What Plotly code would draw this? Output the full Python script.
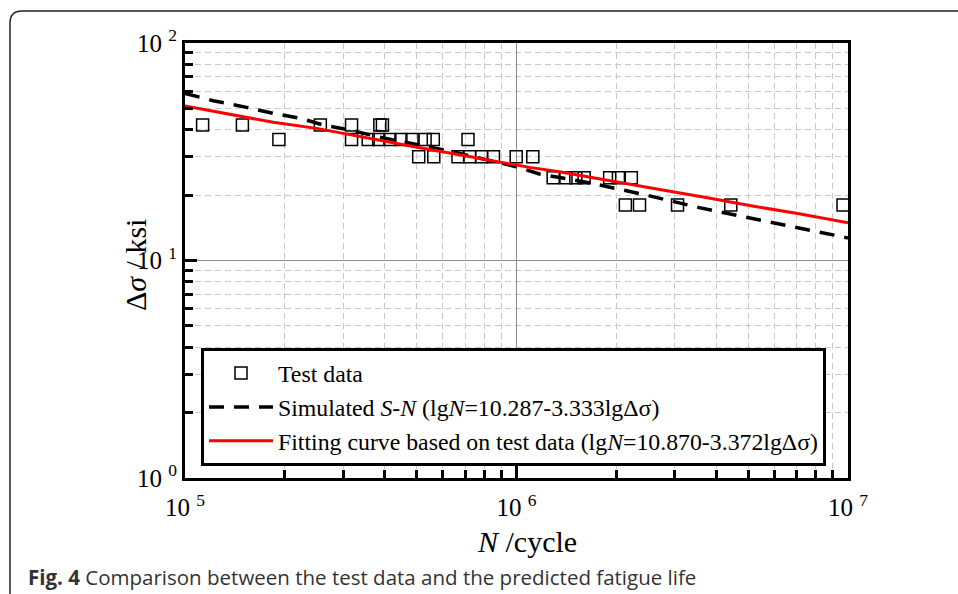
import plotly.graph_objects as go

# ---- data ----
test_N = [1.13e5, 1.49e5, 2.56e5, 3.18e5, 3.87e5, 3.94e5,
          1.92e5, 3.18e5, 3.57e5, 3.84e5, 4.15e5, 4.48e5, 4.84e5, 5.30e5, 5.61e5, 7.14e5,
          5.07e5, 5.63e5, 6.66e5, 7.22e5, 7.85e5, 8.52e5, 9.98e5, 1.12e6,
          1.29e6, 1.41e6, 1.51e6, 1.60e6, 1.91e6, 2.03e6, 2.22e6,
          2.13e6, 2.35e6, 3.06e6, 4.43e6, 9.66e6]
test_S = [42, 42, 42, 42, 42, 42,
          36, 36, 36, 36, 36, 36, 36, 36, 36, 36,
          30, 30, 30, 30, 30, 30, 30, 30,
          24, 24, 24, 24, 24, 24, 24,
          18, 18, 18, 18, 18]

sim_N = [1.0e5, 1.217e5, 1.534e5, 1.845e5, 2.221e5, 2.61e5, 3.141e5, 3.868e5, 4.652e5,
         6.43e5, 9.98e5, 1.173e6, 1.698e6, 2.459e6, 3.558e6, 5.149e6, 7.458e6, 1.0e7]
sim_S = [58.7, 54.3, 50.6, 47.5, 45.1, 42.0, 39.8, 36.9, 34.9,
         31.6, 27.0, 25.0, 22.6, 20.0, 17.5, 15.6, 13.8, 12.7]

fit_N = [1.0e5, 1.304e5, 1.845e5, 2.493e5, 3.366e5, 4.872e5, 7.056e5, 1.094e6, 1.347e6,
         1.863e6, 2.573e6, 3.727e6, 5.149e6, 7.118e6, 1.0e7]
fit_S = [51.3, 47.5, 43.2, 40.5, 37.1, 33.4, 30.2, 26.8, 25.6,
         23.4, 21.5, 19.5, 17.8, 16.4, 14.9]

x_major = [1e5, 1e6, 1e7]
x_major_text = ["10 <sup>5</sup>", "10 <sup>6</sup>", "10 <sup>7</sup>"]
y_major = [1, 10, 100]
y_major_text = ["10 <sup>0</sup>", "10 <sup>1</sup>", "10 <sup>2</sup>"]
x_minor = [k * 10 ** d for d in (5, 6) for k in range(2, 10)]
y_minor = [k * 10 ** d for d in (0, 1) for k in range(2, 10)]

legend_names = ["Test data",
                "Simulated <i>S-N</i> (lg<i>N</i>=10.287-3.333lgΔσ)",
                "Fitting curve based on test data (lg<i>N</i>=10.870-3.372lgΔσ)"]
caption = "<b>Fig. 4</b> Comparison between the test data and the predicted fatigue life"

SERIF = "Liberation Serif"

fig = go.Figure()
fig.add_trace(go.Scatter(x=test_N, y=test_S, mode="markers", name=legend_names[0],
                         marker=dict(symbol="square-open", size=12, color="black",
                                     line=dict(width=1.5, color="black"))))
fig.add_trace(go.Scatter(x=sim_N, y=sim_S, mode="lines", name=legend_names[1],
                         line=dict(color="black", width=3.5, dash="15px,10px")))
fig.add_trace(go.Scatter(x=fit_N, y=fit_S, mode="lines", name=legend_names[2],
                         line=dict(color="#ff0000", width=3)))

# plot area in pixels: x 185..848, y 43..478
L, R, T, B = 185, 848, 43, 478
W, H = R - L, B - T
def px(x): return (x - L) / W
def py(y): return (B - y) / H

axis_common = dict(
    type="log", showline=True, linewidth=3, linecolor="black", mirror=True,
    ticks="inside", ticklen=12, tickwidth=3, tickcolor="black",
    showgrid=True, gridcolor="#8c8c8c", gridwidth=1,
    zeroline=False, tickmode="array",
    tickfont=dict(family=SERIF, size=25, color="black"),
)

fig.update_xaxes(**axis_common, range=[5, 7], tickvals=x_major, ticktext=x_major_text,
                 ticklabelstandoff=5,
                 minor=dict(tickmode="array", tickvals=x_minor, ticks="inside", ticklen=8,
                            tickwidth=2.5, tickcolor="black", showgrid=True,
                            gridcolor="#c8c8c8", gridwidth=1, griddash="6px,4px"))
fig.update_yaxes(**axis_common, range=[0, 2], tickvals=y_major, ticktext=y_major_text,
                 ticklabelstandoff=0,
                 minor=dict(tickmode="array", tickvals=y_minor, ticks="inside", ticklen=8,
                            tickwidth=2.5, tickcolor="black", showgrid=True,
                            gridcolor="#c8c8c8", gridwidth=1, griddash="6px,4px"))

# rounded frame around the figure panel
r = 12
fx0, fy0, fx1, fy1 = 10, 11, 990, 640
path = (f"M {px(fx0)},{py(fy1)} L {px(fx0)},{py(fy0 + r)} "
        f"Q {px(fx0)},{py(fy0)} {px(fx0 + r)},{py(fy0)} L {px(fx1)},{py(fy0)}")
fig.add_shape(type="path", path=path, xref="paper", yref="paper",
              line=dict(color="#222222", width=1.5))

fig.add_annotation(text="Δ<i>σ</i> / ksi", xref="paper", yref="paper",
                   x=px(135), y=py(265), showarrow=False, textangle=-90,
                   xanchor="center", yanchor="middle",
                   font=dict(family=SERIF, size=30, color="black"))
fig.add_annotation(text="<i>N</i> /cycle", xref="paper", yref="paper",
                   x=px(527), y=py(541), showarrow=False,
                   xanchor="center", yanchor="middle",
                   font=dict(family=SERIF, size=30, color="black"))
fig.add_annotation(text=caption, xref="paper", yref="paper",
                   x=px(26), y=py(577), showarrow=False,
                   xanchor="left", yanchor="middle",
                   font=dict(family="Open Sans", size=20.5, color="#333333"))

fig.update_layout(
    width=958, height=594,
    margin=dict(l=L, r=958 - R, t=T, b=594 - B, autoexpand=False),
    paper_bgcolor="white", plot_bgcolor="white",
    showlegend=True,
    legend=dict(x=px(201), y=py(348), xanchor="left", yanchor="top",
                bgcolor="white", bordercolor="black", borderwidth=3,
                itemwidth=64,
                font=dict(family=SERIF, size=23.8, color="black")),
)

fig.write_html("out.html")
